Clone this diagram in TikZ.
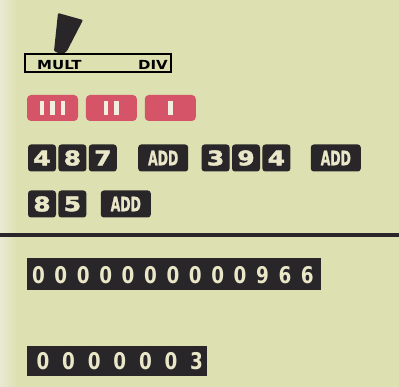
\documentclass[tikz,border=0pt]{standalone}
\usepackage{fontspec}
\usepackage{xcolor}
\usepackage{tikz}
\usetikzlibrary{positioning,calc}
\setmainfont{DejaVu Sans}
\newfontfamily\keyfont[FakeStretch=1.25,FakeBold=2.5]{DejaVu Sans}
\newfontfamily\addfont[FakeStretch=0.62,FakeBold=1]{DejaVu Sans}
\newfontfamily\dispfont[FakeStretch=0.8]{DejaVu Sans}
\newfontfamily\modefont[FakeStretch=1.2]{DejaVu Sans}
\definecolor{paper}{RGB}{221,225,178}
\definecolor{paperlight}{RGB}{234,234,212}
\definecolor{keydark}{RGB}{40,38,40}
\definecolor{keyred}{RGB}{214,84,104}
\definecolor{cream}{RGB}{234,231,200}
\definecolor{barwhite}{RGB}{244,238,224}

\begin{document}
\begin{tikzpicture}[x=1pt, y=-1pt]
        % Style definitions
        \tikzset{
            key/.style={fill=keydark, rounded corners=3pt, minimum width=28pt, minimum height=27pt, inner sep=0pt, text=cream, font=\keyfont\bfseries\fontsize{20}{20}\selectfont},
            addkey/.style={key, minimum width=50pt, font=\addfont\bfseries\fontsize{20}{20}\selectfont},
            modekey/.style={fill=keyred, rounded corners=4pt, minimum width=51pt, minimum height=26pt, inner sep=0pt},
            bar/.style={fill=barwhite, minimum width=4.5pt, minimum height=14pt, inner sep=0pt},
            display/.style={fill=keydark, inner sep=0pt},
            digit/.style={text=cream, inner sep=0pt, font=\dispfont\bfseries\fontsize{23}{23}\selectfont}
        }

        % Background
        \fill[paper] (0,0) rectangle (399,387);
        \shade[left color=paperlight, right color=paper] (0,0) rectangle (16,387);
        \useasboundingbox (0,0) rectangle (399,387);

        % Mode lever and switch
        \fill[keydark, rounded corners=1pt] (58,13) -- (83,20) -- (67,51) -- (62,55) -- (54,51) -- cycle;
        \node [draw, line width=1.4pt, minimum width=146pt, minimum height=18pt, inner sep=0pt] (switch) at (98,63) {};
        \node [anchor=base west, inner sep=0pt, font=\modefont\bfseries\fontsize{12.5}{12.5}\selectfont] (mult) at (37,70) {MULT};
        \node [anchor=base east, inner sep=0pt, font=\modefont\bfseries\fontsize{12.5}{12.5}\selectfont] (div) at (168,70) {DIV};

        % Red mode keys
        \node [modekey] (m3) at (52.5,108) {};
        \node [modekey, right=7.5pt of m3] (m2) {};
        \node [modekey, right=7.5pt of m2] (m1) {};
        \foreach \dx in {-10.5,0,10.5}
            \node [bar] at ($(m3.center)+(\dx,0)$) {};
        \foreach \dx in {-5.25,5.25}
            \node [bar] at ($(m2.center)+(\dx,0)$) {};
        \node [bar] at (m1.center) {};

        % First row of keys
        \node [key] (k4) at (42,158) {4};
        \node [key, right=2pt of k4] (k8) {8};
        \node [key, right=2pt of k8] (k7) {7};
        \node [addkey, right=21pt of k7] (add1) {ADD};
        \node [key, right=13pt of add1] (k3) {3};
        \node [key, right=2pt of k3] (k9) {9};
        \node [key, right=2pt of k9] (k4b) {4};
        \node [addkey, right=20pt of k4b] (add2) {ADD};

        % Second row of keys
        \node [key] (k8b) at (42,204) {8};
        \node [key, right=2pt of k8b] (k5) {5};
        \node [addkey, right=14pt of k5] (add3) {ADD};

        % Rule
        \draw [line width=4pt, keydark] (0,235) -- (399,235);

        % Result displays
        \node [display, minimum width=294pt, minimum height=32pt] (total) at (174,274.5) {};
        \foreach \d [count=\i] in {0,0,0,0,0,0,0,0,0,0,9,6,6}
            \node [digit] (t\i) at ({38.5+(\i-1)*22.4},275) {\d};

        \node [display, minimum width=180pt, minimum height=30pt] (count) at (117,361) {};
        \foreach \d [count=\i] in {0,0,0,0,0,0,3}
            \node [digit] (c\i) at ({43+(\i-1)*25.6},361.5) {\d};
    \end{tikzpicture}
\end{document}
